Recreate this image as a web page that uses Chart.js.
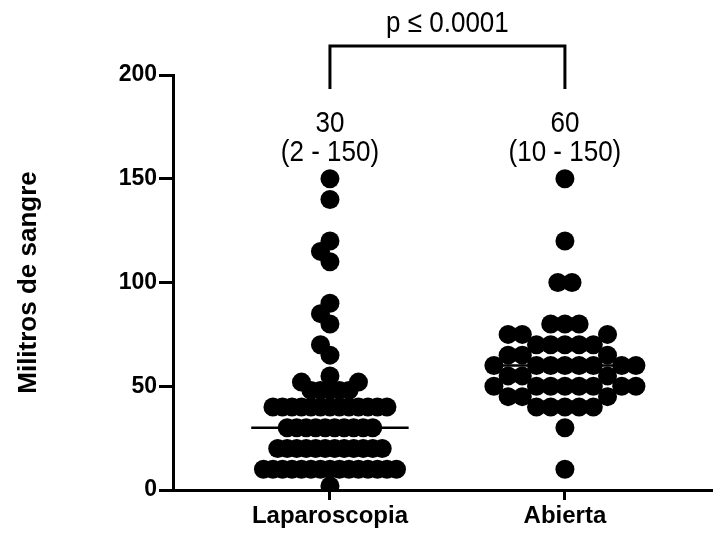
<!DOCTYPE html>
<html>
<head>
<meta charset="utf-8">
<script src="https://cdn.jsdelivr.net/npm/chart.js@4.4.1/dist/chart.umd.min.js"></script>
<style>
  body { margin: 0; background: #fff; }
  #wrap { width: 715px; height: 535px; }
</style>
</head>
<body>
<div id="wrap"><canvas id="myChart"></canvas></div>
<script>
const groups = ["Laparoscopia", "Abierta"];

// blood loss (ml)
const laparoscopia = [
  2,
  10, 10, 10, 10, 10, 10, 10, 10, 10, 10, 10, 10, 10, 10, 10,
  20, 20, 20, 20, 20, 20, 20, 20, 20, 20, 20, 20,
  30, 30, 30, 30, 30, 30, 30, 30, 30, 30,
  40, 40, 40, 40, 40, 40, 40, 40, 40, 40, 40, 40, 40,
  48, 48, 48, 48, 48,
  52, 52,
  55,
  65, 70, 80, 85, 90, 110, 115, 120, 140, 150
];
const abierta = [
  10, 30,
  40, 40, 40, 40, 40,
  45, 45, 45,
  50, 50, 50, 50, 50, 50, 50, 50,
  55, 55, 55,
  60, 60, 60, 60, 60, 60, 60, 60,
  65, 65, 65,
  70, 70, 70, 70, 70,
  75, 75, 75,
  80, 80, 80,
  100, 100, 120, 150
];
const medians = [30, 60];
const ranges = ["(2 - 150)", "(10 - 150)"];
const yTicks = [0, 50, 100, 150, 200];
const pLabel = "p \u2264 0.0001";

const FONT = "'Liberation Sans', Arial, sans-serif";
const slotWidth = [9.5, 14.2]; // horizontal step between dots per column, px
const DY = 13;                 // dots closer than this vertically can't share a slot, px

// Prism-like column scatter: each value row is centred, neighbours fill free slots
function swarm(chart, values, idx) {
  const xs = chart.scales.x;
  const ys = chart.scales.y;
  const cx = xs.getPixelForValue(idx);
  const placed = [];
  const pts = [];
  const uniq = [...new Set(values)].sort((a, b) => a - b);
  uniq.forEach(v => {
    const n = values.filter(w => w === v).length;
    const py = ys.getPixelForValue(v);
    const near = placed.filter(p => Math.abs(p.y - py) < DY);
    const row = half => {
      const got = [];
      for (let k = 0; got.length < n && k < 60; k++) {
        const pair = half ? [-(k + 0.5), k + 0.5] : (k === 0 ? [0] : [-k, k]);
        pair.forEach(c => {
          if (got.length < n && near.every(p => Math.abs(p.x - c) > 0.999)) got.push(c);
        });
      }
      return got;
    };
    const a = row(false);
    const b = row(true);
    const ma = Math.max(...a.map(Math.abs));
    const mb = Math.max(...b.map(Math.abs));
    const use = ma < mb ? a : mb < ma ? b : (n % 2 ? a : b);
    use.forEach(s => {
      placed.push({ x: s, y: py });
      pts.push({ x: xs.getValueForPixel(cx + s * slotWidth[idx]), y: v });
    });
  });
  return pts;
}

function tallText(ctx, text, x, y) {
  ctx.save();
  ctx.translate(x, y);
  ctx.scale(1, 1.15);
  ctx.fillText(text, 0, 0);
  ctx.restore();
}

const annotations = {
  id: "annotations",
  afterDraw(chart) {
    const ctx = chart.ctx;
    const xs = chart.scales.x;
    const x0 = xs.getPixelForValue(0);
    const x1 = xs.getPixelForValue(1);
    ctx.save();
    ctx.strokeStyle = "#000";
    ctx.lineWidth = 3;
    ctx.beginPath();
    ctx.moveTo(x0, 89);
    ctx.lineTo(x0, 46);
    ctx.lineTo(x1, 46);
    ctx.lineTo(x1, 89);
    ctx.stroke();
    ctx.fillStyle = "#000";
    ctx.textAlign = "center";
    ctx.textBaseline = "middle";
    ctx.font = "26px " + FONT;
    tallText(ctx, pLabel, (x0 + x1) / 2, 24);
    for (let i = 0; i < groups.length; i++) {
      const x = xs.getPixelForValue(i);
      tallText(ctx, String(medians[i]), x, 124);
      tallText(ctx, ranges[i], x, 153);
    }
    ctx.restore();
  }
};

const medianLines = medians.map((m, i) => ({
  type: "line",
  data: [{ x: i - 0.335, y: m }, { x: i + 0.335, y: m }],
  borderColor: "#000",
  borderWidth: 2.5,
  pointRadius: 0,
  order: 2
}));

const chart = new Chart(document.getElementById("myChart"), {
  type: "scatter",
  data: {
    datasets: [
      {
        data: laparoscopia.map(v => ({ x: 0, y: v })),
        backgroundColor: "#000",
        borderWidth: 0,
        pointRadius: 9.5,
        pointHoverRadius: 9.5,
        order: 1
      },
      {
        data: abierta.map(v => ({ x: 1, y: v })),
        backgroundColor: "#000",
        borderWidth: 0,
        pointRadius: 9.5,
        pointHoverRadius: 9.5,
        order: 1
      },
      ...medianLines
    ]
  },
  options: {
    responsive: true,
    maintainAspectRatio: false,
    devicePixelRatio: 1,
    animation: false,
    layout: { autoPadding: false, padding: { top: 75, right: 3, left: 0, bottom: 0 } },
    plugins: { legend: { display: false }, tooltip: { enabled: false } },
    scales: {
      x: {
        type: "linear",
        min: -0.668,
        max: 1.626,
        afterBuildTicks: s => { s.ticks = [{ value: 0 }, { value: 1 }]; },
        afterFit: s => { s.height = 45; s.paddingLeft = 0; s.paddingRight = 0; },
        border: { color: "#000", width: 3 },
        grid: { drawOnChartArea: false, color: "#000", tickLength: 10, tickWidth: 3 },
        ticks: {
          color: "#000",
          padding: 2,
          autoSkip: false,
          maxRotation: 0,
          font: { family: FONT, size: 24, weight: "bold" },
          callback: v => groups[v]
        }
      },
      y: {
        min: 0,
        max: 200,
        afterBuildTicks: s => { s.ticks = yTicks.map(v => ({ value: v })); },
        afterFit: s => { s.width = 173; },
        border: { color: "#000", width: 3 },
        grid: { drawOnChartArea: false, color: "#000", tickLength: 14, tickWidth: 3 },
        ticks: {
          color: "#000",
          padding: 2,
          font: { family: FONT, size: 23, weight: "bold" }
        },
        title: {
          display: true,
          text: "Militros de sangre",
          color: "#000",
          padding: { top: 13, bottom: 0 },
          font: { family: FONT, size: 26, weight: "bold" }
        }
      }
    }
  },
  plugins: [annotations]
});

chart.data.datasets[0].data = swarm(chart, laparoscopia, 0);
chart.data.datasets[1].data = swarm(chart, abierta, 1);
chart.update();
</script>
</body>
</html>
